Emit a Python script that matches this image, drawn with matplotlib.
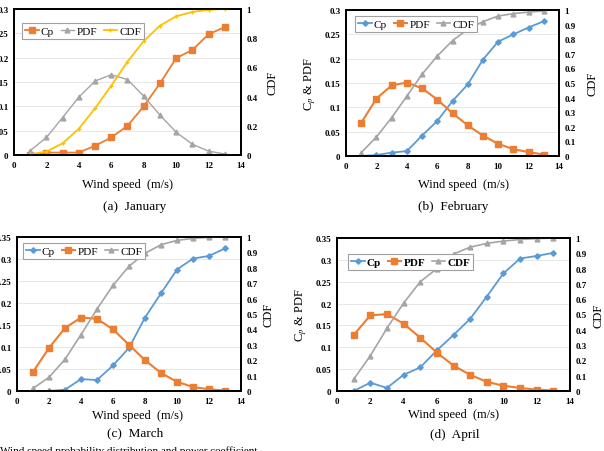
import matplotlib
matplotlib.use("Agg")
import matplotlib.pyplot as plt
from matplotlib.ticker import FuncFormatter, MultipleLocator

plt.rcParams['font.family'] = ['Liberation Serif', 'DejaVu Serif']
plt.rcParams['mathtext.fontset'] = 'stix'

wind = [1, 2, 3, 4, 5, 6, 7, 8, 9, 10, 11, 12, 13]

jan_cp = [0.0, 0.005, 0.005, 0.005, 0.019, 0.036, 0.060, 0.100, 0.147, 0.199, 0.216, 0.248, 0.263]
jan_pdf = [0.009, 0.036, 0.077, 0.119, 0.152, 0.165, 0.155, 0.121, 0.082, 0.047, 0.022, 0.008, 0.002]
jan_cdf = [0.005, 0.023, 0.080, 0.180, 0.320, 0.475, 0.640, 0.780, 0.886, 0.950, 0.980, 0.995, 1.0]

feb_cp = [0.0, 0.002, 0.007, 0.010, 0.042, 0.072, 0.113, 0.147, 0.198, 0.235, 0.250, 0.264, 0.277]
feb_pdf = [0.068, 0.118, 0.145, 0.151, 0.139, 0.116, 0.088, 0.063, 0.042, 0.025, 0.014, 0.008, 0.003]
feb_cdf = [0.023, 0.130, 0.263, 0.410, 0.560, 0.685, 0.790, 0.868, 0.920, 0.959, 0.975, 0.986, 0.993]

mar_cp = [0.0, 0.0, 0.003, 0.027, 0.025, 0.058, 0.098, 0.167, 0.222, 0.276, 0.301, 0.307, 0.324]
mar_pdf = [0.043, 0.098, 0.143, 0.167, 0.164, 0.140, 0.105, 0.070, 0.041, 0.021, 0.009, 0.004, 0.001]
mar_cdf = [0.017, 0.089, 0.206, 0.366, 0.532, 0.686, 0.810, 0.894, 0.950, 0.978, 0.991, 0.998, 1.0]

apr_cp = [0.0, 0.019, 0.007, 0.037, 0.054, 0.093, 0.128, 0.165, 0.216, 0.269, 0.303, 0.309, 0.316]
apr_pdf = [0.128, 0.173, 0.176, 0.154, 0.122, 0.088, 0.058, 0.037, 0.021, 0.012, 0.007, 0.003, 0.001]
apr_cdf = [0.076, 0.230, 0.410, 0.574, 0.714, 0.800, 0.895, 0.940, 0.965, 0.980, 0.990, 0.996, 1.0]

captions = ["(a)  January", "(b)  February", "(c)  March", "(d)  April"]
legend_labels = ['Cp', 'PDF', 'CDF']

ORANGE = '#ED7D31'
BLUE = '#5B9BD5'
GRAY = '#A5A5A5'
YELLOW = '#FFC000'

W, H = 604, 452
fig = plt.figure(figsize=(W / 100, H / 100), dpi=100)

def fx(px):
    return px / W

def fy(py):
    return 1 - py / H

fmt = FuncFormatter(lambda v, p: f"{round(v, 3):g}")

panels = [
    dict(box=(14, 10, 241, 156), ymax=0.3, cstep=0.2, month='jan',
         leg=(22, 24), bold=False, xlab=(127, 185), cap=(135, 207),
         ylab=None, rlab=272),
    dict(box=(346, 11, 559, 157), ymax=0.3, cstep=0.1, month='feb',
         leg=(355, 17), bold=False, xlab=(463, 185), cap=(453, 207),
         ylab=310, rlab=593),
    dict(box=(17, 238, 241, 392), ymax=0.35, cstep=0.1, month='mar',
         leg=(23, 244), bold=False, xlab=(138, 416), cap=(135, 433),
         ylab=None, rlab=268),
    dict(box=(337, 239, 570, 392), ymax=0.35, cstep=0.1, month='apr',
         leg=(348, 255), bold=True, xlab=(454, 415), cap=(455, 435),
         ylab=301, rlab=598),
]

data = {
    'jan': (jan_cp, jan_pdf, jan_cdf),
    'feb': (feb_cp, feb_pdf, feb_cdf),
    'mar': (mar_cp, mar_pdf, mar_cdf),
    'apr': (apr_cp, apr_pdf, apr_cdf),
}

for i, p in enumerate(panels):
    l, t, r, b = p['box']
    ax = fig.add_axes([fx(l), fy(b), fx(r) - fx(l), fy(t) - fy(b)])
    ax2 = ax.twinx()
    cp, pdf, cdf = data[p['month']]
    if p['month'] == 'jan':
        h1, = ax.plot(wind, cp, color=ORANGE, marker='s', ms=4, lw=1.3)
        h2, = ax.plot(wind, pdf, color=GRAY, marker='^', ms=3.5, lw=1.0)
        h3, = ax2.plot(wind, cdf, color=YELLOW, marker='+', ms=3, lw=1.3)
    else:
        h1, = ax.plot(wind, cp, color=BLUE, marker='D', ms=2.8, lw=1.3)
        h2, = ax.plot(wind, pdf, color=ORANGE, marker='s', ms=4.5, lw=1.5)
        h3, = ax2.plot(wind, cdf, color=GRAY, marker='^', ms=3.5, lw=1.2)
    handles = [h1, h2, h3]

    ax.set_xlim(0, 14)
    ax.set_ylim(0, p['ymax'])
    ax2.set_ylim(0, 1)
    ax.xaxis.set_major_locator(MultipleLocator(2))
    ax.yaxis.set_major_locator(MultipleLocator(0.05))
    ax2.yaxis.set_major_locator(MultipleLocator(p['cstep']))
    ax.yaxis.set_major_formatter(fmt)
    ax2.yaxis.set_major_formatter(fmt)
    ax.grid(axis='y', color='#E3E3E3', lw=0.6)
    ax.set_axisbelow(True)
    for a in (ax, ax2):
        a.tick_params(length=0, labelsize=6.5, pad=4)
        for lab in a.get_xticklabels() + a.get_yticklabels():
            lab.set_fontweight('bold')
        for s in a.spines.values():
            s.set_linewidth(1.3)
            s.set_color('black')

    fig.text(fx(p['xlab'][0]), fy(p['xlab'][1]), 'Wind speed  (m/s)', ha='center', va='center', fontsize=9)
    fig.text(fx(p['cap'][0]), fy(p['cap'][1]), captions[i], ha='center', va='center', fontsize=9.5)
    fig.text(fx(p['rlab']), fy((t + b) / 2), 'CDF', rotation=90, ha='center', va='center', fontsize=9)
    if p['ylab'] is not None:
        fig.text(fx(p['ylab']), fy((t + b) / 2), r'C$_p$ & PDF', rotation=90, ha='center', va='center', fontsize=9)

    leg = ax2.legend(handles, legend_labels, ncol=3, loc='upper left',
                     bbox_to_anchor=(fx(p['leg'][0]), fy(p['leg'][1])),
                     bbox_transform=fig.transFigure,
                     prop={'weight': 'bold' if p['bold'] else 'normal', 'size': 8},
                     frameon=True, fancybox=False, edgecolor='#A0A0A0', framealpha=1,
                     handlelength=1.2, handletextpad=0.2, columnspacing=0.6,
                     borderpad=0.3, borderaxespad=0)
    leg.get_frame().set_linewidth(0.8)
    ax2.set_zorder(ax.get_zorder() + 1)
    ax.patch.set_visible(True)
    ax2.patch.set_visible(False)

fig.text(0.0, fy(454), 'Wind speed probability distribution and power coefficient', ha='left', va='baseline', fontsize=8)

fig.savefig('out.png', dpi=100)
